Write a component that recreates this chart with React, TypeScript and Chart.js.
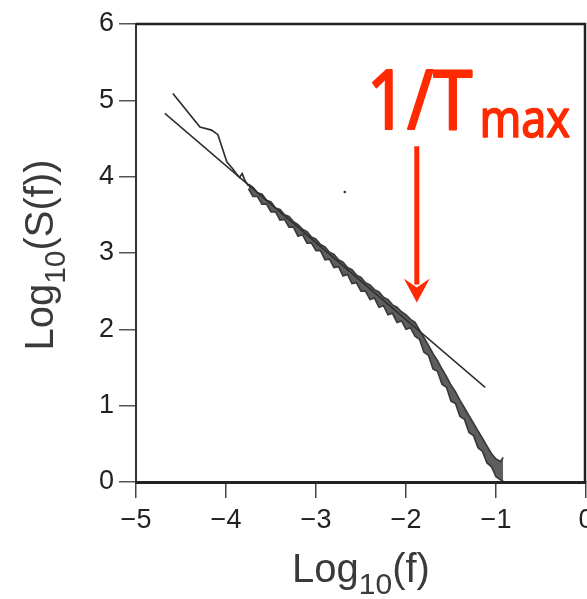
import React, { useEffect, useRef } from "react";
import { Chart, registerables } from "chart.js";

Chart.register(...registerables);

const xTicks = [-5, -4, -3, -2, -1, 0];
const yTicks = [0, 1, 2, 3, 4, 5, 6];

const fitLineX = [-4.68, -1.12];
const fitLineY = [4.83, 1.24];

const lowFreqX = [-4.59, -4.29, -4.16, -4.09, -3.99, -3.93, -3.88, -3.85, -3.82, -3.79, -3.75];
const lowFreqY = [5.09, 4.65, 4.61, 4.55, 4.19, 4.11, 4.03, 3.99, 4.04, 3.95, 3.88];

const specX = [
  -3.75, -3.7, -3.65, -3.6, -3.55, -3.5, -3.45, -3.4, -3.35, -3.3,
  -3.25, -3.2, -3.15, -3.1, -3.05, -3.0, -2.95, -2.9, -2.85, -2.8,
  -2.75, -2.7, -2.65, -2.6, -2.55, -2.5, -2.45, -2.4, -2.35, -2.3,
  -2.25, -2.2, -2.15, -2.1, -2.05, -2.0, -1.95, -1.9, -1.85, -1.8,
  -1.75, -1.7, -1.65, -1.6, -1.55, -1.5, -1.45, -1.4, -1.35, -1.3,
  -1.25, -1.2, -1.15, -1.1, -1.05, -1.0, -0.95, -0.92,
];
const specUpper = [
  3.9, 3.86, 3.79, 3.77, 3.69, 3.67, 3.59, 3.57, 3.5, 3.48,
  3.41, 3.37, 3.31, 3.28, 3.21, 3.18, 3.11, 3.08, 3.01, 2.98,
  2.91, 2.88, 2.81, 2.78, 2.71, 2.68, 2.61, 2.58, 2.52, 2.49,
  2.42, 2.39, 2.32, 2.29, 2.23, 2.19, 2.13, 2.09, 1.99, 1.89,
  1.79, 1.68, 1.59, 1.48, 1.38, 1.27, 1.18, 1.07, 0.97, 0.87,
  0.77, 0.67, 0.57, 0.47, 0.37, 0.3, 0.27, 0.32,
];
const specLower = [
  3.84, 3.74, 3.74, 3.64, 3.64, 3.54, 3.54, 3.43, 3.44, 3.34,
  3.34, 3.22, 3.24, 3.13, 3.13, 3.03, 3.03, 2.91, 2.92, 2.81,
  2.82, 2.7, 2.72, 2.6, 2.61, 2.5, 2.5, 2.39, 2.41, 2.29,
  2.31, 2.19, 2.21, 2.09, 2.11, 2.0, 2.02, 1.91, 1.87, 1.7,
  1.66, 1.48, 1.45, 1.28, 1.24, 1.06, 1.03, 0.86, 0.82, 0.65,
  0.61, 0.45, 0.4, 0.25, 0.2, 0.07, 0.03, 0.01,
];

const speckX = [-2.68];
const speckY = [3.8];

const arrowX = -1.88;
const arrowTopY = 4.4;
const arrowTipY = 2.35;

const pts = (xs: number[], ys: number[]) => xs.map((x, i) => ({ x, y: ys[i] }));

const TICK_FONT = "Liberation Sans, Arial, sans-serif";
const INK = "#222";
const RED = "#ff2a00";

const framePlugin = {
  id: "frameAndText",
  afterDraw(chart: any) {
    const { ctx, chartArea, scales } = chart;
    const xs = scales.x;
    const ys = scales.y;
    ctx.save();
    // top and right frame
    ctx.strokeStyle = "#222";
    ctx.lineWidth = 2.5;
    ctx.beginPath();
    ctx.moveTo(chartArea.left, chartArea.top);
    ctx.lineTo(chartArea.right - 1, chartArea.top);
    ctx.lineTo(chartArea.right - 1, chartArea.bottom);
    ctx.stroke();

    // x title
    ctx.fillStyle = "#3a3a3a";
    ctx.textBaseline = "alphabetic";
    ctx.textAlign = "left";
    const big = "40px " + TICK_FONT;
    const small = "30px " + TICK_FONT;
    ctx.font = big;
    const wLog = ctx.measureText("Log").width;
    const wF = ctx.measureText("(f)").width;
    ctx.font = small;
    const w10 = ctx.measureText("10").width;
    const total = wLog + w10 + wF;
    const cx = 361;
    const x0 = cx - total / 2;
    const base = 582;
    ctx.font = big;
    ctx.fillText("Log", x0, base);
    ctx.font = small;
    ctx.fillText("10", x0 + wLog, base + 12);
    ctx.font = big;
    ctx.fillText("(f)", x0 + wLog + w10, base);

    // y title
    ctx.font = big;
    const wS = ctx.measureText("(S(f))").width;
    const totY = wLog + w10 + wS;
    ctx.save();
    ctx.translate(53, 255 + totY / 2);
    ctx.rotate(-Math.PI / 2);
    ctx.font = big;
    ctx.fillText("Log", 0, 0);
    ctx.font = small;
    ctx.fillText("10", wLog, 12);
    ctx.font = big;
    ctx.fillText("(S(f))", wLog + w10, 0);
    ctx.restore();

    // annotation arrow
    const ax = xs.getPixelForValue(arrowX);
    const ayTop = ys.getPixelForValue(arrowTopY);
    const ayTip = ys.getPixelForValue(arrowTipY);
    ctx.strokeStyle = RED;
    ctx.fillStyle = RED;
    ctx.lineWidth = 5;
    ctx.beginPath();
    ctx.moveTo(ax, ayTop);
    ctx.lineTo(ax, ayTip - 18);
    ctx.stroke();
    ctx.beginPath();
    ctx.moveTo(ax - 13, ayTip - 24);
    ctx.lineTo(ax, ayTip - 15);
    ctx.lineTo(ax + 13, ayTip - 24);
    ctx.lineTo(ax, ayTip);
    ctx.closePath();
    ctx.fill();

    // annotation text
    ctx.save();
    ctx.translate(ax - 50, 129);
    ctx.scale(0.86, 1);
    ctx.lineJoin = "round";
    ctx.lineWidth = 2.2;
    ctx.font = "82px 'Noto Sans', sans-serif";
    ctx.fillText("1/T", 0, 0);
    ctx.strokeText("1/T", 0, 0);
    const w1 = ctx.measureText("1/T").width;
    ctx.font = "52px 'Noto Sans', sans-serif";
    ctx.lineWidth = 1.6;
    ctx.fillText("max", w1 + 8, 8);
    ctx.strokeText("max", w1 + 8, 8);
    ctx.restore();

    ctx.restore();
  },
};

export default function App() {
  const ref = useRef<HTMLCanvasElement | null>(null);
  useEffect(() => {
    if (!ref.current) return;
    const lineStyle = {
      showLine: true,
      pointRadius: 0,
      pointHoverRadius: 0,
      pointHitRadius: 0,
      borderColor: "#2e2e2e",
      borderWidth: 1.7,
      tension: 0,
    };
    const chart = new Chart(ref.current, {
      type: "scatter",
      data: {
        datasets: [
          { ...lineStyle, label: "fit", data: pts(fitLineX, fitLineY), borderWidth: 1.5 },
          { ...lineStyle, label: "lowFreq", data: pts(lowFreqX, lowFreqY) },
          { ...lineStyle, label: "upper", data: pts(specX, specUpper), borderColor: "#3a3a3a" },
          {
            ...lineStyle,
            label: "lower",
            data: pts(specX, specLower),
            borderColor: "#3a3a3a",
            fill: "-1",
            backgroundColor: "#5e5e5e",
          },
          {
            label: "speck",
            data: pts(speckX, speckY),
            pointRadius: 1.3,
            pointHoverRadius: 1.3,
            backgroundColor: "#333",
            borderWidth: 0,
          },
        ],
      },
      options: {
        responsive: false,
        animation: false,
        events: [],
        layout: { autoPadding: false, padding: { top: 24, right: 1, left: 0, bottom: 0 } },
        plugins: {
          legend: { display: false },
          tooltip: { enabled: false },
          filler: { propagate: false },
        },
        scales: {
          x: {
            type: "linear",
            min: -5,
            max: 0,
            afterFit(scale: any) {
              scale.height = 117;
              scale.paddingLeft = 0;
              scale.paddingRight = 0;
            },
            afterBuildTicks(scale: any) {
              scale.ticks = xTicks.map((v) => ({ value: v }));
            },
            ticks: {
              padding: 6,
              color: INK,
              font: { family: TICK_FONT, size: 27 },
              maxRotation: 0,
              autoSkip: false,
              callback: (v: any) => (Number(v) < 0 ? "\u2212" + Math.abs(Number(v)) : String(v)),
            },
            grid: { drawOnChartArea: false, tickLength: 16, color: "#444", lineWidth: 1.5 },
            border: { display: true, color: "#222", width: 3 },
          },
          y: {
            type: "linear",
            min: 0,
            max: 6,
            afterFit(scale: any) {
              scale.width = 136;
              scale.paddingTop = 0;
              scale.paddingBottom = 0;
            },
            afterBuildTicks(scale: any) {
              scale.ticks = yTicks.map((v) => ({ value: v }));
            },
            ticks: {
              padding: 5,
              color: INK,
              font: { family: TICK_FONT, size: 27 },
              autoSkip: false,
            },
            grid: { drawOnChartArea: false, tickLength: 17, color: "#555", lineWidth: 1.5 },
            border: { display: true, color: "#333", width: 2 },
          },
        },
      },
      plugins: [framePlugin],
    } as any);
    return () => chart.destroy();
  }, []);
  return (
    <div style={{ position: "fixed", left: 0, top: 0, width: 587, height: 599, background: "#fff" }}>
      <canvas ref={ref} width={587} height={599} />
    </div>
  );
}
